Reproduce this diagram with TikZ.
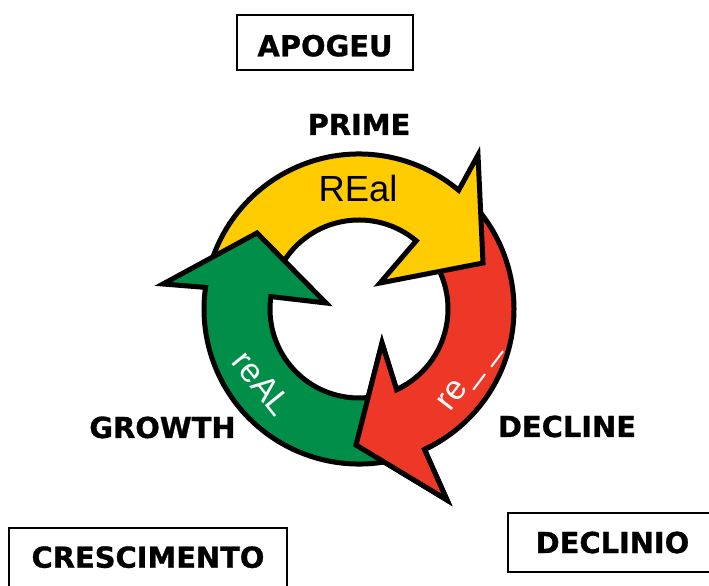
\documentclass[tikz,border=0pt]{standalone}
\usepackage{fontspec}
\newfontfamily\dvs{DejaVu Sans}[BoldFeatures={FakeBold=1}]
\newfontfamily\ars{Liberation Sans}
\usetikzlibrary{calc}
\definecolor{cyel}{RGB}{254,204,0}
\definecolor{cred}{RGB}{237,56,40}
\definecolor{cgrn}{RGB}{0,142,72}
\begin{document}
\begin{tikzpicture}[x=1bp,y=1bp,
  arr/.style={draw=black, line width=5bp, line join=miter, miter limit=10},
  lab/.style={font=\dvs\bfseries\fontsize{29}{29}\selectfont, inner sep=0pt, anchor=base},
  boxed/.style={draw=black, line width=2bp, font=\dvs\bfseries\fontsize{29}{29}\selectfont, inner sep=0pt},
  intext/.style={font=\ars\fontsize{34}{34}\selectfont, inner sep=0pt}]
\useasboundingbox (0,0) rectangle (709,586);
\clip (0,0) rectangle (709,586);
\coordinate (C) at (359,277);
% head points
\coordinate (yOB) at (478,431); \coordinate (yT) at (483,323); \coordinate (yIB) at (380,303);
\coordinate (gOB) at (163,302); \coordinate (gT) at (257,353); \coordinate (gIB) at (326,283);
\coordinate (rOB) at (447,86);  \coordinate (rT) at (356,141); \coordinate (rIB) at (382,243);
% red arrow
\draw[arr, fill=cred] ($(C)+(45:155)$) arc[start angle=45, end angle=-65, radius=155]
  -- (rOB) -- (rT) -- (rIB) -- ($(C)+(-65:89)$) arc[start angle=-65, end angle=45, radius=89] -- cycle;
% yellow arrow
\draw[arr, fill=cyel] ($(C)+(168:155)$) arc[start angle=168, end angle=50, radius=155]
  -- (yOB) -- (yT) -- (yIB) -- ($(C)+(50:89)$) arc[start angle=50, end angle=168, radius=89] -- cycle;
% green arrow
\draw[arr, fill=cgrn] ($(C)+(290:155)$) arc[start angle=290, end angle=172, radius=155]
  -- (gOB) -- (gT) -- (gIB) -- ($(C)+(172:89)$) arc[start angle=172, end angle=290, radius=89] -- cycle;
% red head again on top of green tail
\fill[cred] ($(C)+(-65:155)$) -- (rOB) -- (rT) -- (rIB) -- ($(C)+(-65:89)$) -- cycle;
\draw[arr] ($(C)+(-58:155)$) arc[start angle=-58, end angle=-65, radius=155]
  -- (rOB) -- (rT) -- (rIB) -- ($(C)+(-65:89)$) arc[start angle=-65, end angle=-58, radius=89];
% texts in arrows
\node[intext, font=\ars\fontsize{36.5}{36.5}\selectfont, anchor=base] (real) at (358,384) {REal};
\node[intext, text=white, rotate=-51] (reAL) at (262,202.5) {reAL};
\node[intext, text=white, rotate=53] (re) at (470,209) {re\hspace{0.05em}\_\hspace{0.3em}\_};
% labels
\node[lab] (prime) at (359,451) {PRIME};
\node[lab] (growth) at (162.5,148) {GROWTH};
\node[lab] (decline) at (567,149) {DECLINE};
% boxes
\node[boxed, minimum width=176, minimum height=55, text height=28bp] (apogeu) at (325,543.5) {APOGEU};
\node[boxed, minimum width=280, minimum height=72, text depth=14bp] (cresc) at (148,22) {CRESCIMENTO};
\node[boxed, minimum width=209, minimum height=59] (declinio) at (612.5,43.5) {DECLINIO};
\end{tikzpicture}
\end{document}
